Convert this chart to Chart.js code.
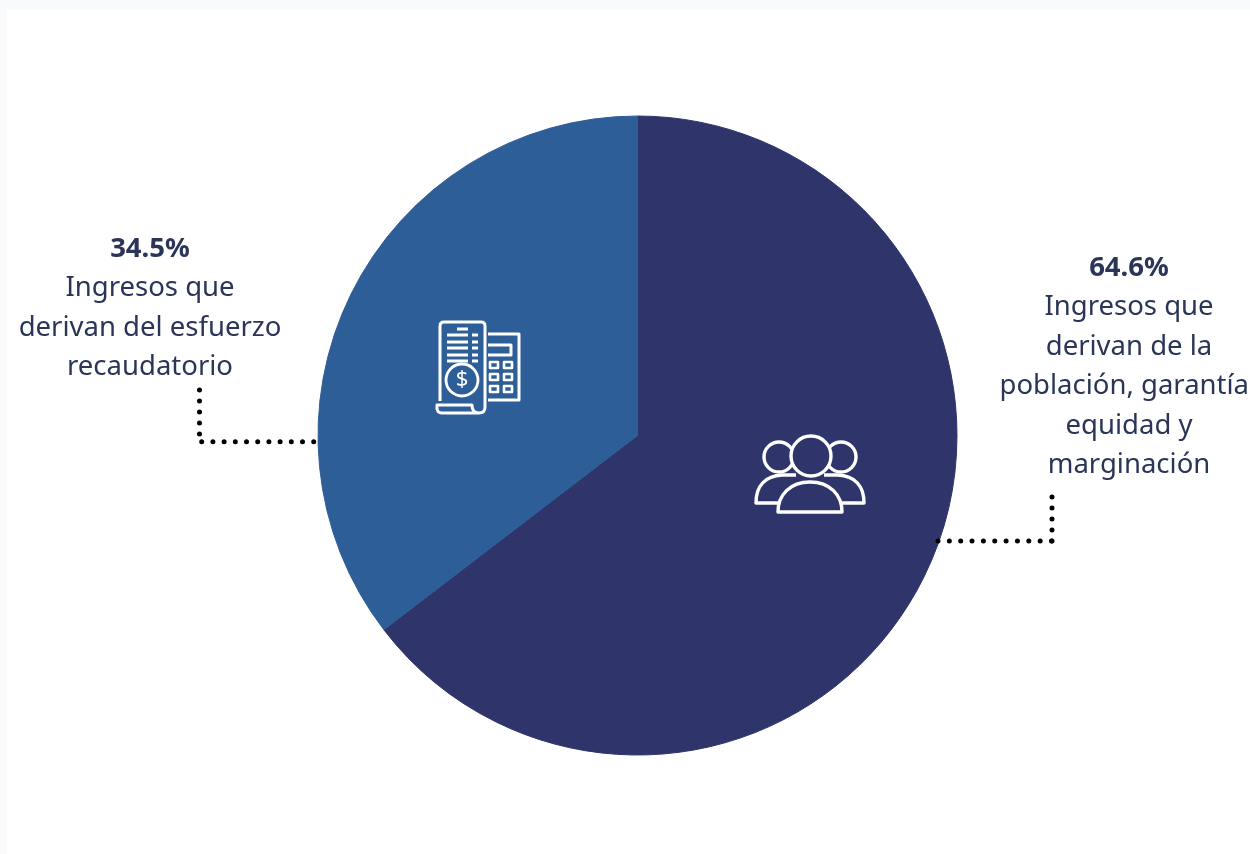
<!DOCTYPE html>
<html lang="es">
<head>
<meta charset="utf-8">
<title>Ingresos</title>
<script src="https://cdn.jsdelivr.net/npm/chart.js@4"></script>
<style>
  html, body { margin: 0; padding: 0; background: #f8fafc; overflow: hidden; }
  #panel { position: absolute; left: 7px; top: 10px; width: 1243px; height: 844px; background: #fff; }
  #pie { position: absolute; left: 0; top: 0; }
</style>
</head>
<body>
<div id="panel"></div>
<canvas id="pie" width="1250" height="854"></canvas>
<script>
const categories = ['Población, garantía, equidad y marginación', 'Esfuerzo recaudatorio'];
// the slices as drawn fill the whole circle, the printed labels add to 99.1
const sliceValues = [64.6, 35.4];
const sliceColors = ['#2f346b', '#2d5e97'];
const percentLabels = ['64.6%', '34.5%'];
const labelLines = [
  ['Ingresos que', 'derivan de la', 'población, garantía', 'equidad y', 'marginación'],
  ['Ingresos que', 'derivan del esfuerzo', 'recaudatorio']
];

const textColor = '#2a3557';
const fontFamily = '"Noto Sans", "Open Sans", sans-serif';

function drawLabel(ctx, percent, lines, x, y) {
  ctx.fillStyle = textColor;
  ctx.textAlign = 'center';
  ctx.textBaseline = 'middle';
  ctx.font = '700 27.5px ' + fontFamily;
  ctx.fillText(percent, x, y);
  ctx.font = '400 27.5px ' + fontFamily;
  lines.forEach((line, i) => {
    // long lines stay inside the page edge
    const w = ctx.measureText(line).width;
    ctx.fillText(line, Math.min(x, 1249 - w / 2), y + 39.5 * (i + 1));
  });
}

function drawLeader(ctx, pts, gap) {
  ctx.save();
  ctx.strokeStyle = '#000';
  ctx.lineWidth = 5;
  ctx.lineCap = 'round';
  ctx.setLineDash([0, gap]);
  ctx.beginPath();
  pts.forEach((p, i) => i ? ctx.lineTo(p[0], p[1]) : ctx.moveTo(p[0], p[1]));
  ctx.stroke();
  ctx.restore();
}

function drawReceipt(ctx, x, y) {
  ctx.save();
  ctx.translate(x, y);
  ctx.strokeStyle = '#fff';
  ctx.lineWidth = 3;
  ctx.lineJoin = 'round';
  // receipt body
  ctx.beginPath();
  ctx.moveTo(-38, 34);
  ctx.lineTo(-38, -41);
  ctx.quadraticCurveTo(-38, -45, -34, -45);
  ctx.lineTo(3, -45);
  ctx.quadraticCurveTo(7, -45, 7, -41);
  ctx.lineTo(7, 40);
  ctx.quadraticCurveTo(7, 46, 1, 46);
  ctx.lineTo(-36, 46);
  ctx.quadraticCurveTo(-42, 46, -41, 38);
  ctx.lineTo(-6, 38);
  ctx.quadraticCurveTo(-6, 46, 1, 46);
  ctx.stroke();
  // text rows on the receipt
  ctx.beginPath();
  ctx.moveTo(-21, -38); ctx.lineTo(-10, -38);
  [-32, -25, -19, -12, -6].forEach(r => {
    ctx.moveTo(-31, r); ctx.lineTo(-10, r);
    ctx.moveTo(-6, r); ctx.lineTo(0, r);
  });
  ctx.stroke();
  // coin
  ctx.lineWidth = 2.8;
  ctx.beginPath();
  ctx.arc(-16, 13, 16, 0, Math.PI * 2);
  ctx.stroke();
  ctx.fillStyle = '#fff';
  ctx.font = '400 22px ' + fontFamily;
  ctx.textAlign = 'center';
  ctx.textBaseline = 'middle';
  ctx.fillText('$', -16, 13);
  // calculator
  ctx.lineWidth = 3;
  ctx.beginPath();
  ctx.moveTo(10, -33); ctx.lineTo(41, -33); ctx.lineTo(41, 33); ctx.lineTo(10, 33);
  ctx.moveTo(10, -22); ctx.lineTo(33, -22); ctx.lineTo(33, -12); ctx.lineTo(10, -12);
  ctx.stroke();
  ctx.lineWidth = 2.6;
  [-2, 10, 22].forEach(r => {
    ctx.strokeRect(12, r - 3, 8, 6);
    ctx.strokeRect(26, r - 3, 8, 6);
  });
  ctx.restore();
}

function drawPeople(ctx, x, y) {
  ctx.save();
  ctx.translate(x, y);
  ctx.strokeStyle = '#fff';
  ctx.lineWidth = 3.4;
  ctx.lineJoin = 'round';
  // side people first, the middle one is painted over them
  ctx.beginPath();
  ctx.arc(-31, -18, 15, 0, Math.PI * 2);
  ctx.moveTo(46, -18);
  ctx.arc(31, -18, 15, 0, Math.PI * 2);
  ctx.stroke();
  ctx.beginPath();
  ctx.moveTo(-30, 28);
  ctx.lineTo(-54, 28);
  ctx.bezierCurveTo(-54, 10, -44, 1, -28, 0);
  ctx.lineTo(-14, 0);
  ctx.moveTo(30, 28);
  ctx.lineTo(54, 28);
  ctx.bezierCurveTo(54, 10, 44, 1, 28, 0);
  ctx.lineTo(14, 0);
  ctx.stroke();
  ctx.fillStyle = sliceColors[0];
  ctx.beginPath();
  ctx.arc(1, -19, 20, 0, Math.PI * 2);
  ctx.fill();
  ctx.stroke();
  ctx.beginPath();
  ctx.moveTo(-32, 37);
  ctx.lineTo(32, 37);
  ctx.bezierCurveTo(32, 20, 20, 7, 0, 7);
  ctx.bezierCurveTo(-20, 7, -32, 20, -32, 37);
  ctx.closePath();
  ctx.fill();
  ctx.stroke();
  ctx.restore();
}

const annotationPlugin = {
  id: 'annotations',
  afterDatasetsDraw(chart) {
    const ctx = chart.ctx;
    const arc = chart.getDatasetMeta(0).data[0];
    const cx = arc.x, cy = arc.y;

    drawReceipt(ctx, cx - 159.5, cy - 68.5);
    drawPeople(ctx, cx + 172.5, cy + 39.5);

    drawLeader(ctx, [[cx - 438, cy - 45.5], [cx - 438, cy - 1]], 11);
    drawLeader(ctx, [[cx - 435.8, cy + 6.2], [cx - 323, cy + 6.2]], 11.2);
    drawLeader(ctx, [[cx + 300.5, cy + 105.5], [cx + 414.2, cy + 105.5]], 11.35);
    drawLeader(ctx, [[cx + 414.5, cy + 105.5], [cx + 414.5, cy + 61]], 11);

    drawLabel(ctx, percentLabels[1], labelLines[1], 150, 249);
    drawLabel(ctx, percentLabels[0], labelLines[0], 1129, 268);
  }
};

new Chart(document.getElementById('pie'), {
  type: 'pie',
  data: {
    labels: categories,
    datasets: [{
      data: sliceValues,
      backgroundColor: sliceColors,
      borderColor: sliceColors,
      borderWidth: 1
    }]
  },
  options: {
    responsive: false,
    animation: false,
    layout: { padding: { left: 317.5, right: 292.5, top: 115.5, bottom: 98.5 } },
    plugins: {
      legend: { display: false },
      tooltip: { enabled: false }
    }
  },
  plugins: [annotationPlugin]
});
</script>
</body>
</html>
